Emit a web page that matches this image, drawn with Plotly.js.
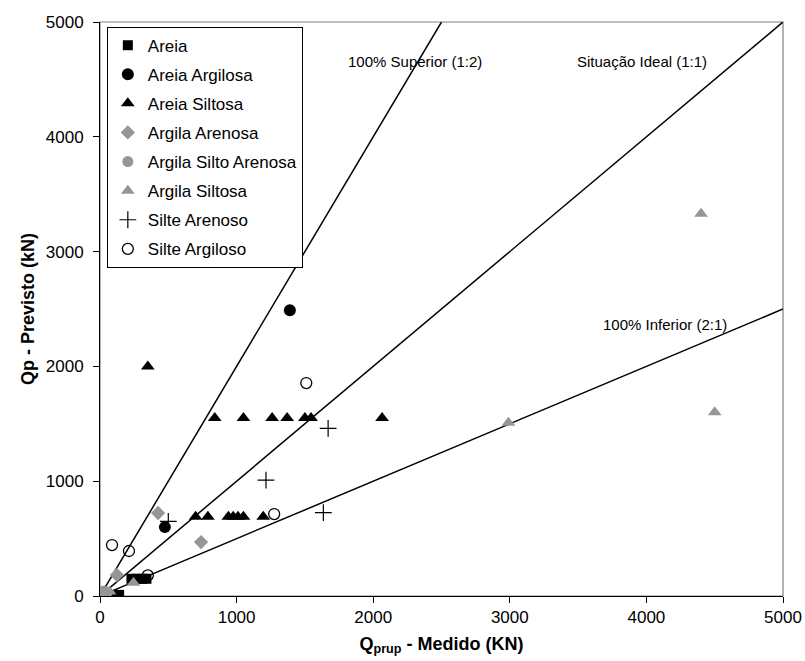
<!DOCTYPE html>
<html>
<head>
<meta charset="utf-8">
<script src="https://cdn.plot.ly/plotly-3.0.1.min.js"></script>
<style>html,body{margin:0;padding:0;background:#fff;}#chart{width:805px;height:661px;}</style>
</head>
<body>
<div id="chart"></div>
<script>
// Reference lines
const lineSupX = [0, 2500];
const lineSupY = [0, 5000];
const lineIdealX = [0, 5000];
const lineIdealY = [0, 5000];
const lineInfX = [0, 5000];
const lineInfY = [0, 2500];

// Series
const areiaX = [230, 270, 310, 340, 140];
const areiaY = [150, 150, 150, 150, 10];
const areiaArgX = [1390, 475];
const areiaArgY = [2490, 600];
const areiaSiltX = [350, 840, 1050, 1260, 1370, 1500, 1545, 2065, 700, 790, 940, 975, 1010, 1050, 1195, 30, 120];
const areiaSiltY = [2000, 1550, 1550, 1550, 1550, 1550, 1550, 1550, 690, 690, 690, 690, 690, 690, 690, 40, 10];
const argArenX = [425, 740, 124, 20];
const argArenY = [723, 470, 183, 30];
const argSiltoArenX = [40];
const argSiltoArenY = [40];
const argSiltX = [2990, 4400, 4500, 245, 10, 70, 30];
const argSiltY = [1510, 3330, 1600, 115, 40, 40, 20];
const silteArenX = [500, 1215, 1670, 1635];
const silteArenY = [650, 1010, 1460, 726];
const silteArgX = [1510, 1275, 88, 212, 350];
const silteArgY = [1855, 714, 444, 392, 180];

const names = ['Areia','Areia Argilosa','Areia Siltosa','Argila Arenosa','Argila Silto Arenosa','Argila Siltosa','Silte Arenoso','Silte Argiloso'];
const xTicks = [0, 1000, 2000, 3000, 4000, 5000];
const yTicks = [0, 1000, 2000, 3000, 4000, 5000];

const gray = '#969696';
const lineStyle = {color: '#000', width: 1.5};
const traces = [
  {x: lineSupX, y: lineSupY, mode: 'lines', line: lineStyle, showlegend: false, hoverinfo: 'skip'},
  {x: lineIdealX, y: lineIdealY, mode: 'lines', line: lineStyle, showlegend: false, hoverinfo: 'skip'},
  {x: lineInfX, y: lineInfY, mode: 'lines', line: lineStyle, showlegend: false, hoverinfo: 'skip'},
  {x: areiaX, y: areiaY, name: names[0], legendgroup: 'g0', mode: 'markers', marker: {symbol: 'square', color: '#000', size: 10}},
  {x: areiaArgX, y: areiaArgY, name: names[1], legendgroup: 'g1', mode: 'markers', marker: {symbol: 'circle', color: '#000', size: 12}},
  {x: areiaSiltX, y: areiaSiltY, name: names[2], legendgroup: 'g2', mode: 'markers', marker: {symbol: 'triangle-up', color: '#000', size: 12}},
  {x: argArenX, y: argArenY, name: names[3], legendgroup: 'g3', mode: 'markers', marker: {symbol: 'diamond', color: gray, size: 11}},
  {x: argSiltoArenX, y: argSiltoArenY, name: names[4], legendgroup: 'g4', mode: 'markers', marker: {symbol: 'circle', color: gray, size: 11}},
  {x: argSiltX, y: argSiltY, name: names[5], legendgroup: 'g5', mode: 'markers', marker: {symbol: 'triangle-up', color: gray, size: 12}},
  {x: silteArenX, y: silteArenY, name: names[6], legendgroup: 'g6', mode: 'markers', marker: {symbol: 'cross-thin', color: '#000', size: 12, line: {color: '#000', width: 1.2}}},
  {x: silteArgX, y: silteArgY, name: names[7], legendgroup: 'g7', mode: 'markers', marker: {symbol: 'circle-open', color: '#000', size: 11, line: {color: '#000', width: 1.3}}}
];

const fam = 'Liberation Sans, Arial, sans-serif';
const layout = {
  width: 805, height: 661,
  margin: {l: 100, r: 22, t: 22, b: 65},
  paper_bgcolor: '#fff', plot_bgcolor: '#fff',
  font: {size: 17, family: fam, color: '#000'},
  showlegend: true,
  legend: {
    x: 0.01, y: 0.992, xanchor: 'left', yanchor: 'top',
    bgcolor: '#fff', bordercolor: '#000', borderwidth: 1,
    font: {size: 17, family: fam, color: '#000'},
    traceorder: 'grouped', tracegroupgap: 4, itemwidth: 30
  },
  xaxis: {
    range: [0, 5000], tickvals: xTicks, ticktext: xTicks.map(String),
    showgrid: false, zeroline: false, showline: true, linecolor: '#000', linewidth: 1,
    ticks: 'outside', ticklen: 6, tickcolor: '#000',
    tickfont: {size: 17, family: fam, color: '#000'},
    title: {text: '<b>Q<sub>prup</sub> - Medido (KN)</b>', font: {size: 18, family: fam, color: '#000'}, standoff: 10}
  },
  yaxis: {
    range: [0, 5000], tickvals: yTicks, ticktext: yTicks.map(String),
    showgrid: false, zeroline: false, showline: true, linecolor: '#000', linewidth: 1,
    ticks: 'outside', ticklen: 6, tickcolor: '#000', ticklabelstandoff: 6,
    tickfont: {size: 17, family: fam, color: '#000'},
    title: {text: '<b>Qp - Previsto (kN)</b>', font: {size: 18, family: fam, color: '#000'}, standoff: 6}
  },
  shapes: [
    {type: 'rect', xref: 'paper', yref: 'paper', x0: 0, y0: 0, x1: 1, y1: 1, line: {color: '#808080', width: 1.2}, layer: 'below'}
  ],
  annotations: [
    {x: 2306, y: 4652, xref: 'x', yref: 'y', text: '100% Superior (1:2)', showarrow: false, font: {size: 15, family: fam, color: '#000'}},
    {x: 3968, y: 4652, xref: 'x', yref: 'y', text: 'Situação Ideal (1:1)', showarrow: false, font: {size: 15, family: fam, color: '#000'}},
    {x: 4136, y: 2369, xref: 'x', yref: 'y', text: '100% Inferior (2:1)', showarrow: false, font: {size: 15, family: fam, color: '#000'}}
  ]
};

Plotly.newPlot('chart', traces, layout, {displayModeBar: false, staticPlot: true});
</script>
</body>
</html>
